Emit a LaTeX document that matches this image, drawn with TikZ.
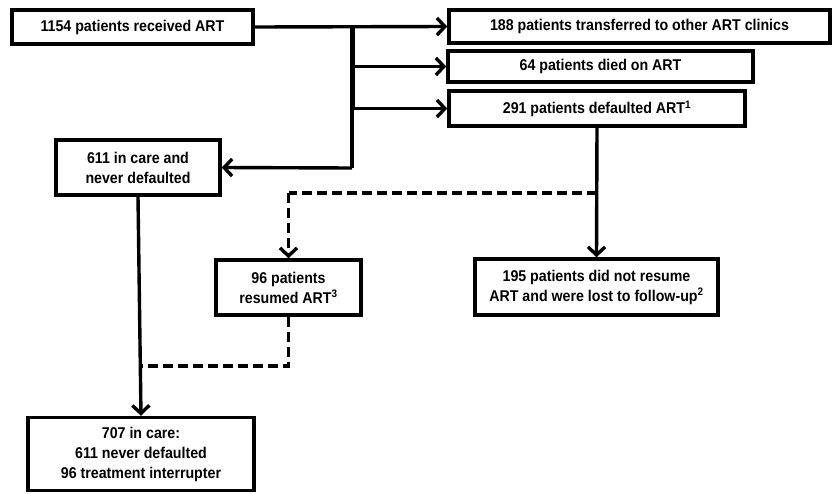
\documentclass[tikz,border=0pt]{standalone}
\usepackage{fontspec}
\setmainfont{Liberation Sans}[FakeStretch=0.91]
\usetikzlibrary{arrows.meta}
\begin{document}
\begin{tikzpicture}[x=1pt,y=-1pt,
  box/.style={draw,line width=3.5pt,inner sep=0pt,align=center,
    font=\fontsize{15.6}{20}\selectfont\bfseries},
  conn/.style={line width=3.4pt,-{Straight Barb[length=8pt,width=17pt,line width=3.4pt]}},
  plain/.style={line width=3.4pt},
  dashline/.style={line width=3.4pt,dash pattern=on 10pt off 5pt}
]
\useasboundingbox (0,0) rectangle (833,493);
\node[box,minimum width=241pt,minimum height=34pt] (A) at (132.5,27) {1154 patients received ART};
\node[box,minimum width=381pt,minimum height=33pt] (B) at (639.5,26.5) {188 patients transferred to other ART clinics};
\node[box,minimum width=305pt,minimum height=31pt] (C) at (600.5,66.5) {64 patients died on ART};
\node[box,minimum width=296pt,minimum height=35pt] (D) at (597,108.5) {291 patients defaulted ART\textsuperscript{1}};
\node[box,minimum width=164pt,minimum height=55pt] (E) at (138,167.5) {611 in care and\\never defaulted};
\node[box,minimum width=145pt,minimum height=55pt] (F) at (288.5,287.5) {96 patients\\resumed ART\textsuperscript{3}};
\node[box,minimum width=243pt,minimum height=56pt] (G) at (596.5,287) {195 patients did not resume\\ART and were lost to follow-up\textsuperscript{2}};
\node[box,minimum width=226pt,minimum height=73pt] (H) at (141,454) {707 in care:\\611 never defaulted\\96 treatment interrupter};

\coordinate (t0) at (352,26.5);
\coordinate (t1) at (352,66.5);
\coordinate (t2) at (352,108.5);
\coordinate (t3) at (352,168);
\coordinate (d1) at (597,193);
\coordinate (d2) at (288.5,193);
\coordinate (r1) at (288.5,366);
\coordinate (r2) at (140,366);

\draw[conn] (A.east) -- (B.west);
\draw[line width=5pt] (t0) -- (t2);
\draw[plain] (t2) -- (t3);
\draw[conn] (t1) -- (C.west);
\draw[conn] (t2) -- (D.west);
\draw[conn] (t3) -- (E.east);
\draw[conn] (D.south) -- (G.north);
\draw[dashline] (d1) -- (d2);
\draw[conn,dash pattern=on 10pt off 5pt] (d2) -- (F.north);
\draw[conn] (E.south) -- (H.north);
\draw[dashline] (F.south) -- (r1) -- (r2);
\end{tikzpicture}
\end{document}
